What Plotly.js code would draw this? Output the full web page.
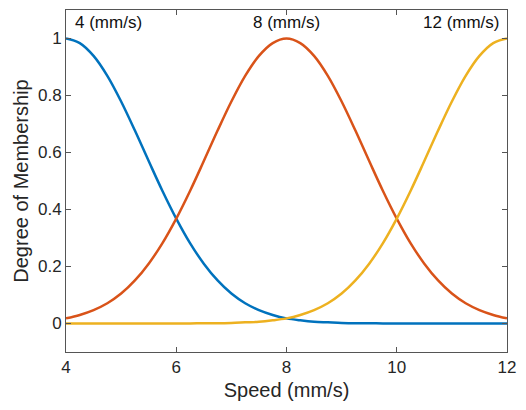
<!DOCTYPE html>
<html>
<head>
<meta charset="utf-8">
<script src="https://cdn.plot.ly/plotly-3.0.1.min.js"></script>
<style>html,body{margin:0;padding:0;background:#fff;}#chart{width:526px;height:410px;}</style>
</head>
<body>
<div id="chart"></div>
<script>
const speed = [4,4.25,4.5,4.75,5,5.25,5.5,5.75,6,6.25,6.5,6.75,7,7.25,7.5,7.75,8,8.25,8.5,8.75,9,9.25,9.5,9.75,10,10.25,10.5,10.75,11,11.25,11.5,11.75,12];
const slow = [1.000,0.984,0.939,0.869,0.779,0.677,0.570,0.465,0.368,0.282,0.210,0.151,0.105,0.071,0.047,0.030,0.018,0.011,0.006,0.004,0.002,0.001,0.001,0,0,0,0,0,0,0,0,0,0];
const medium = [0.018,0.030,0.047,0.071,0.105,0.151,0.210,0.282,0.368,0.465,0.570,0.677,0.779,0.869,0.939,0.984,1.000,0.984,0.939,0.869,0.779,0.677,0.570,0.465,0.368,0.282,0.210,0.151,0.105,0.071,0.047,0.030,0.018];
const fast = [0,0,0,0,0,0,0,0,0,0,0.001,0.001,0.002,0.004,0.006,0.011,0.018,0.030,0.047,0.071,0.105,0.151,0.210,0.282,0.368,0.465,0.570,0.677,0.779,0.869,0.939,0.984,1.000];
const labels = ["4 (mm/s)", "8 (mm/s)", "12 (mm/s)"];
const labelX = [4, 8, 12];
const colors = ["#0072BD", "#D95319", "#EDB120"];

const series = [slow, medium, fast];
const traces = series.map((s, i) => ({
  x: speed, y: s, type: 'scatter', mode: 'lines',
  line: {color: colors[i], width: 2.5, shape: 'spline', smoothing: 1},
  hoverinfo: 'none', showlegend: false
}));

const fontFam = 'Liberation Sans, Arial, Helvetica, sans-serif';
const anchors = ['left', 'center', 'right'];
const shifts = [7, 0, -5];
const annotations = labels.map((t, i) => ({
  x: labelX[i], y: 1.055, xref: 'x', yref: 'y', text: t, showarrow: false,
  xanchor: anchors[i], yanchor: 'middle', xshift: shifts[i],
  font: {family: fontFam, size: 17, color: '#111'}
}));

const axisCommon = {
  showgrid: false, zeroline: false, showline: true, linecolor: '#555', linewidth: 1,
  mirror: 'ticks', ticks: 'inside', ticklen: 5, tickcolor: '#555', tickwidth: 1,
  tickfont: {family: fontFam, size: 17, color: '#262626'}
};

const layout = {
  width: 526, height: 410,
  margin: {l: 66, r: 19, t: 10, b: 58},
  paper_bgcolor: '#fff', plot_bgcolor: '#fff',
  xaxis: Object.assign({}, axisCommon, {
    range: [4, 12], tickvals: [4, 6, 8, 10, 12],
    title: {text: 'Speed (mm/s)', font: {family: fontFam, size: 20, color: '#262626'}, standoff: 6}
  }),
  yaxis: Object.assign({}, axisCommon, {
    range: [-0.1, 1.1], tickvals: [0, 0.2, 0.4, 0.6, 0.8, 1], ticktext: ['0','0.2','0.4','0.6','0.8','1'],
    title: {text: 'Degree of Membership', font: {family: fontFam, size: 20, color: '#262626'}, standoff: 3}
  }),
  annotations: annotations
};

Plotly.newPlot('chart', traces, layout, {displayModeBar: false, staticPlot: true});
</script>
</body>
</html>
